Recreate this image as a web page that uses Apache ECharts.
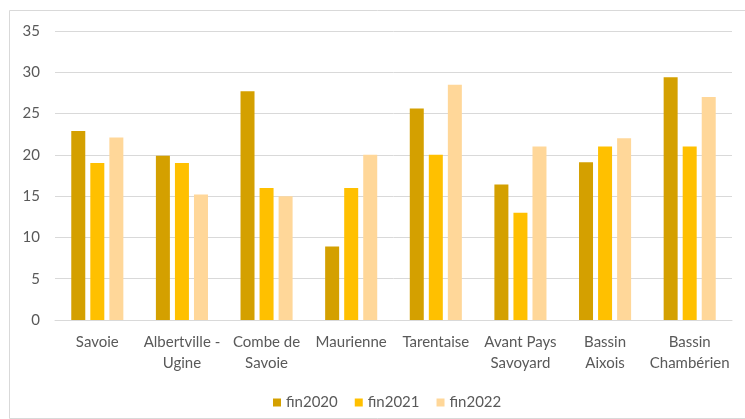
<!DOCTYPE html>
<html>
<head>
<meta charset="utf-8">
<script src="https://cdn.jsdelivr.net/npm/echarts@6/dist/echarts.min.js"></script>
<style>
  html, body { margin: 0; padding: 0; background: #ffffff; }
  #chart { width: 745px; height: 419px; }
</style>
</head>
<body>
<div id="chart"></div>
<script>
// Territoires
const categories = ['Savoie', 'Albertville -\nUgine', 'Combe de\nSavoie', 'Maurienne', 'Tarentaise', 'Avant Pays\nSavoyard', 'Bassin\nAixois', 'Bassin\nChambérien'];

// Valeurs par année
const fin2020 = [22.9, 19.9, 27.7, 8.9, 25.6, 16.4, 19.1, 29.4];
const fin2021 = [19, 19, 16, 16, 20, 13, 21, 21];
const fin2022 = [22.1, 15.2, 15, 20, 28.5, 21, 22, 27];

const yTicks = { min: 0, max: 35, interval: 5 };

const font = 'Lato, "Open Sans", sans-serif';
const textGray = '#595959';

const chart = echarts.init(document.getElementById('chart'), null, { renderer: 'canvas' });

const mkSeries = (name, data, color) => ({
  name, type: 'bar', data,
  barWidth: 14, barGap: '36%',
  itemStyle: { color },
  emphasis: { disabled: true }
});

chart.setOption({
  animation: false,
  textStyle: { fontFamily: font },
  graphic: [{
    type: 'rect',
    shape: { x: 9.5, y: 10.5, width: 745, height: 408 },
    style: { fill: 'none', stroke: '#d9d9d9', lineWidth: 1 },
    silent: true
  }],
  grid: { left: 55, right: 13, top: 31, bottom: 99 },
  legend: {
    top: 390, left: 268,
    itemWidth: 8, itemHeight: 8, itemGap: 17,
    icon: 'rect',
    textStyle: { color: textGray, fontSize: 15, fontFamily: font },
    data: ['fin2020', 'fin2021', 'fin2022']
  },
  xAxis: {
    type: 'category',
    data: categories,
    axisLine: { lineStyle: { color: '#d9d9d9' } },
    axisTick: { show: false },
    axisLabel: { color: textGray, fontSize: 15, lineHeight: 21, margin: 12, interval: 0, fontFamily: font }
  },
  yAxis: {
    type: 'value',
    min: yTicks.min, max: yTicks.max, interval: yTicks.interval,
    axisLine: { show: false },
    axisTick: { show: false },
    splitLine: { lineStyle: { color: '#d9d9d9' } },
    axisLabel: { color: textGray, fontSize: 15, margin: 15, fontFamily: font }
  },
  series: [
    mkSeries('fin2020', fin2020, '#D4A000'),
    mkSeries('fin2021', fin2021, '#FFC000'),
    mkSeries('fin2022', fin2022, '#FFD799')
  ]
});
</script>
</body>
</html>
